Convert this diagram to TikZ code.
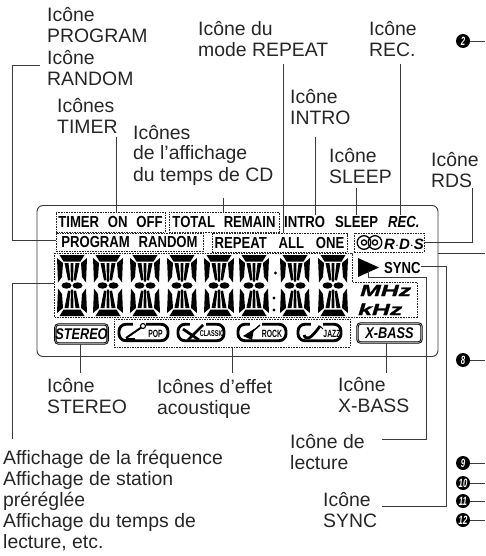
\documentclass[tikz,border=0pt]{standalone}
\usepackage{fontspec}
\setmainfont{Liberation Sans}
\newfontfamily\lcdfont[FakeStretch=0.82,WordSpace=2.4]{Liberation Sans}
\newfontfamily\widefont[FakeStretch=1.55,FakeBold=1.5]{Liberation Sans}
\newfontfamily\pilfont[FakeStretch=0.65]{Liberation Sans}
\usetikzlibrary{arrows.meta,positioning,shapes.geometric,calc}
\definecolor{leadgray}{HTML}{3A3A3A}
\tikzset{
  lbl/.style={anchor=base west, inner sep=0pt, align=left, font=\fontsize{19.4}{21}\selectfont, text=black!85},
  lead/.style={draw=leadgray, line width=0.9pt},
  dashbox/.style={draw=black!85, line width=0.7pt, dash pattern=on 1.6pt off 1pt, inner sep=0pt, font=\lcdfont\bfseries\fontsize{16}{16}\selectfont},
  seglabel/.style={anchor=base west, inner sep=0pt, font=\lcdfont\bfseries\fontsize{16}{16}\selectfont},
  framebox/.style={draw=black, double=black!40, double distance=0.7pt, line width=0.8pt, rounded corners=3pt, inner sep=0pt, font=\lcdfont\bfseries\itshape\fontsize{15.5}{16}\selectfont},
  pillbox/.style={draw=black, line width=2.9pt, rounded corners=7pt, minimum height=16.5pt, inner sep=0pt},
  piltext/.style={inner sep=0pt, font=\pilfont\bfseries\fontsize{10.5}{11}\selectfont},
  marknum/.style={circle, fill=black, text=white, inner sep=0pt, minimum size=14pt, font=\pilfont\bfseries\itshape\fontsize{12}{12}\selectfont},
  lcddigit/.pic={
    \foreach \s/\o in {1/0,-1/61}{
      \begin{scope}[shift={(0,\o)},yscale=\s]
        \fill (2.5,0) -- (27.5,0) -- (23.5,6.5) -- (6.5,6.5) -- cycle;
        \fill (0,3) -- (6,8) -- (5,22) -- (1,27.5) -- cycle;
        \fill (30,3) -- (24,8) -- (25,22) -- (29,27.5) -- cycle;
        \fill (7.5,8) -- (11.5,8) -- (13.5,25) -- (11,25.5) -- cycle;
        \fill (22.5,8) -- (18.5,8) -- (16.5,25) -- (19,25.5) -- cycle;
        \fill (13.5,8) -- (16.5,8) -- (16,26.5) -- (14,26.5) -- cycle;
      \end{scope}
    }
    \fill (9.5,30.5) ellipse [x radius=5, y radius=3.2];
    \fill (20.5,30.5) ellipse [x radius=5, y radius=3.2];
  }
}
\begin{document}
\begin{tikzpicture}[x=1pt,y=-1pt]
  \useasboundingbox (0,0) rectangle (485,556);
  % LCD panel
  \node[draw=leadgray, line width=0.9pt, rounded corners=6pt, inner sep=0pt, minimum width=401pt, minimum height=151pt] (panel) at (237.5,281) {};

  % dashed groups
  \node[dashbox, minimum width=109pt, minimum height=20pt] (boxTimer) at (110.5,222) {TIMER ON OFF};
  \node[dashbox, minimum width=110pt, minimum height=20pt] (boxTotal) at (224,222) {TOTAL REMAIN};
  \node[dashbox, minimum width=147pt, minimum height=18pt] (boxProgram) at (129.5,242) {PROGRAM RANDOM};
  \node[dashbox, minimum width=135pt, minimum height=19pt] (boxRepeat) at (279.5,243) {REPEAT\hspace{3pt} ALL\hspace{3pt} ONE};
  \node[dashbox, minimum width=70pt, minimum height=19pt] (boxRds) at (389,242.5) {};
  \node[dashbox, minimum width=236pt, minimum height=28pt] (boxEffect) at (232,333) {};
  \draw[draw=black!85, line width=0.7pt, dash pattern=on 1.6pt off 1pt] (54,253) -- (352,253) -- (352,282) -- (417,282) -- (417,317) -- (54,317) -- cycle;

  \node[seglabel] (txtIntro) at (284,227) {INTRO};
  \node[seglabel] (txtSleep) at (335,227) {SLEEP};
  \node[seglabel, font=\lcdfont\bfseries\itshape\fontsize{16}{16}\selectfont] (txtRec) at (388,227) {REC.};

  % digits
  \foreach \dx in {57,93,130,167,204,239,280,318}
    \pic at (\dx,255) {lcddigit};
  \fill (275.5,273) circle (1.7);
  \fill (274,298) circle (1.7);
  \fill (274,310) circle (1.7);

  % RDS, play, SYNC
  \draw[line width=1.3pt] (364,242.5) circle (6.8) (364,242.5) circle (2.6);
  \draw[line width=1.3pt] (375,242.5) circle (6.8) (375,242.5) circle (2.6);
  \node[seglabel, font=\bfseries\itshape\fontsize{15}{15}\selectfont] (txtRds) at (384,249) {R$\cdot$D$\cdot$S};
  \fill (358,258) -- (379,267.5) -- (358,277) -- cycle;
  \node[seglabel] (txtSync) at (384,273) {SYNC};
  \node[seglabel, font=\widefont\bfseries\itshape\fontsize{16}{16}\selectfont] (txtMhz) at (360,296) {MHz};
  \node[seglabel, font=\widefont\bfseries\itshape\fontsize{16}{16}\selectfont] (txtKhz) at (358,315) {kHz};

  % framed icons
  \node[framebox, minimum width=52pt, minimum height=19pt] (iconStereo) at (81.5,334) {STEREO};
  \node[framebox, minimum width=64pt, minimum height=19pt] (iconBass) at (389.5,333) {X-BASS};

  % effect pills
  \node[pillbox, minimum width=49pt] (pillPop) at (143.5,332.5) {};
  \node[pillbox, minimum width=46pt] (pillClassic) at (201,332.5) {};
  \node[pillbox, minimum width=48pt] (pillRock) at (262,332.5) {};
  \node[pillbox, minimum width=43pt] (pillJazz) at (319.5,332.5) {};
  \node[piltext] (txtPop) at (155.5,333.5) {POP};
  \node[piltext, font=\pilfont\bfseries\fontsize{8.5}{9}\selectfont] (txtClassic) at (212,334) {CLASSIC};
  \node[piltext] (txtRock) at (272,334) {ROCK};
  \node[piltext] (txtJazz) at (332,333.5) {JAZZ};
  \draw[white, line width=5pt] (133,324) -- (146,324);
  \draw[line width=2pt] (126,338) -- (142,327) (126,339) -- (135,339);
  \draw[line width=1.1pt, fill=white] (143,326) circle (2.5);
  \draw[white, line width=5pt] (190,324) -- (206,324);
  \draw[line width=2.8pt] (183,329) -- (199,340) (188,340) -- (203,325);
  \draw[white, line width=5pt] (250,324) -- (262,324);
  \fill (243,336) -- (254,329) -- (252,340) -- cycle;
  \draw[line width=1.4pt] (252,332) -- (260,325);
  \draw[white, line width=5pt] (311,324) -- (323,324);
  \draw[line width=2.8pt] (304,335) .. controls (306,341) and (311,339) .. (320,326);
  \draw[line width=0.9pt] (320,326) -- (323,329);

  % outer labels
  \node[lbl] (lblProgram) at (47,43) {Icône\\PROGRAM};
  \node[lbl] (lblRandom) at (47,86) {Icône\\RANDOM};
  \node[lbl] (lblTimer) at (57,134) {Icônes\\TIMER};
  \node[lbl] (lblTemps) at (133,181) {Icônes\\de l'affichage\\du temps de CD};
  \node[lbl] (lblRepeat) at (198,57) {Icône du\\mode REPEAT};
  \node[lbl] (lblIntro) at (290,125) {Icône\\INTRO};
  \node[lbl] (lblSleep) at (329,183) {Icône\\SLEEP};
  \node[lbl] (lblRec) at (369,57) {Icône\\REC.};
  \node[lbl] (lblRds) at (431,187) {Icône\\RDS};
  \node[lbl] (lblStereo) at (47,413) {Icône\\STEREO};
  \node[lbl] (lblEffect) at (157,414) {Icônes d’effet\\acoustique};
  \node[lbl] (lblBass) at (338,412) {Icône\\X-BASS};
  \node[lbl] (lblPlay) at (290,469) {Icône de\\lecture};
  \node[lbl] (lblSync) at (323,527) {Icône\\SYNC};
  \node[lbl] (lblDisplay) at (3,548) {Affichage de la fréquence\\Affichage de station\\préréglée\\Affichage du temps de\\lecture, etc.};

  % free ends of the leaders
  \coordinate (endRandom) at (40,65);
  \coordinate (inProgram) at (56,240);
  \coordinate (inDisplay) at (54,283);
  \coordinate (endDisplay) at (12,439);
  \coordinate (endTimer) at (116,137);
  \coordinate (endTemps) at (223,198);
  \coordinate (endRepeat) at (283,64);
  \coordinate (endIntro) at (315,137);
  \coordinate (endSleep) at (356,188);
  \coordinate (endRec) at (400,64);
  \coordinate (endRds) at (472,188);
  \coordinate (endStereo) at (80,373);
  \coordinate (endEffect) at (232,373);
  \coordinate (endBass) at (386,373);
  \coordinate (endPlay) at (382,439);
  \coordinate (endSync) at (382,506);
  \coordinate (edgePanel) at (485,253);

  \draw[lead] (endRandom) -- ++(-28,0) |- (inProgram);
  \draw[lead] (inDisplay) -| (endDisplay);
  \draw[lead] (endTimer) -- (endTimer |- boxTimer.north);
  \draw[lead] (endTemps) -- (endTemps |- boxTotal.north);
  \draw[lead] (endRepeat) -- (endRepeat |- boxRepeat.north);
  \draw[lead] (endIntro) -- (315,215);
  \draw[lead] (endSleep) -- (356,215);
  \draw[lead] (endRec) -- (400,215);
  \draw[lead] (endRds) |- (boxRds.east);
  \draw[lead] (endStereo) -- (endStereo |- iconStereo.south);
  \draw[lead] (endEffect) -- (endEffect |- boxEffect.south);
  \draw[lead] (endBass) -- (endBass |- iconBass.south);
  \draw[lead] (368,271) |- (426,277) |- (endPlay);
  \draw[lead] (txtSync.east |- 0,266) -- (446,266) |- (endSync);
  \draw[lead] (panel.east |- edgePanel) -- (edgePanel);

  % reference numbers at the right
  \foreach \n/\py in {2/41,8/360,9/463,10/483,11/501,12/520}{
    \node[marknum] (mark\n) at (463,\py) {\n};
    \coordinate (edge\n) at (485,\py);
    \draw[lead] (mark\n) -- (edge\n);
  }
\end{tikzpicture}
\end{document}
